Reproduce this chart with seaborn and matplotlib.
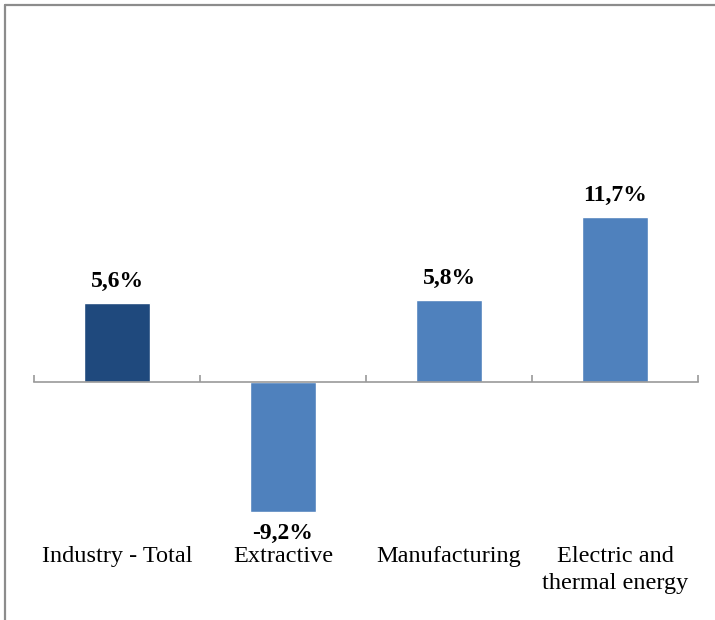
import matplotlib
matplotlib.use('Agg')
import matplotlib.pyplot as plt
import seaborn as sns
from matplotlib.lines import Line2D

categories = ['Industry - Total', 'Extractive', 'Manufacturing', 'Electric and\nthermal energy']
values = [5.6, -9.2, 5.8, 11.7]
value_labels = ['5,6%', '-9,2%', '5,8%', '11,7%']
colors = ['#1F497D', '#4F81BD', '#4F81BD', '#4F81BD']

sns.set_style('white')
plt.rcParams['font.family'] = ['Liberation Serif', 'DejaVu Serif']

fig = plt.figure(figsize=(7.15, 6.2), dpi=100)
ax = fig.add_axes([34 / 715, 20 / 620, 664 / 715, 570 / 620])

sns.barplot(x=categories, y=values, hue=categories, palette=colors,
            legend=False, width=0.4, saturation=1, ax=ax)

ax.set_xlim(-0.5, 3.5)
ax.set_ylim(-15.48, 25.0)

# value labels
for cont, lab in zip(ax.containers, value_labels):
    ax.bar_label(cont, labels=[lab], padding=8, fontsize=17, fontweight='bold',
                 color='black')

# axis line through zero with boundary ticks pointing up
for s in ['top', 'right', 'left']:
    ax.spines[s].set_visible(False)
ax.spines['bottom'].set_position(('data', 0))
ax.spines['bottom'].set_color('#9a9a9a')
ax.spines['bottom'].set_linewidth(1.2)
ax.set_xticks([-0.5, 0.5, 1.5, 2.5, 3.5])
ax.set_xticklabels([])
ax.tick_params(axis='x', direction='in', length=5, width=1.2, color='#9a9a9a', bottom=True)
ax.set_yticks([])
ax.set_xlabel('')
ax.set_ylabel('')

# category labels at the bottom
for i, cat in enumerate(categories):
    ax.text(i, -11.65, cat, ha='center', va='top', fontsize=17.5,
            linespacing=1.35, color='black')

# outer frame (left and top edges visible)
fig.add_artist(Line2D([4.5 / 715, 4.5 / 715], [0, 1 - 5 / 620],
                      transform=fig.transFigure, color='#8c8c8c', lw=1.6))
fig.add_artist(Line2D([4.5 / 715, 1], [1 - 5 / 620, 1 - 5 / 620],
                      transform=fig.transFigure, color='#8c8c8c', lw=1.6))

fig.savefig('out.png', dpi=100)
